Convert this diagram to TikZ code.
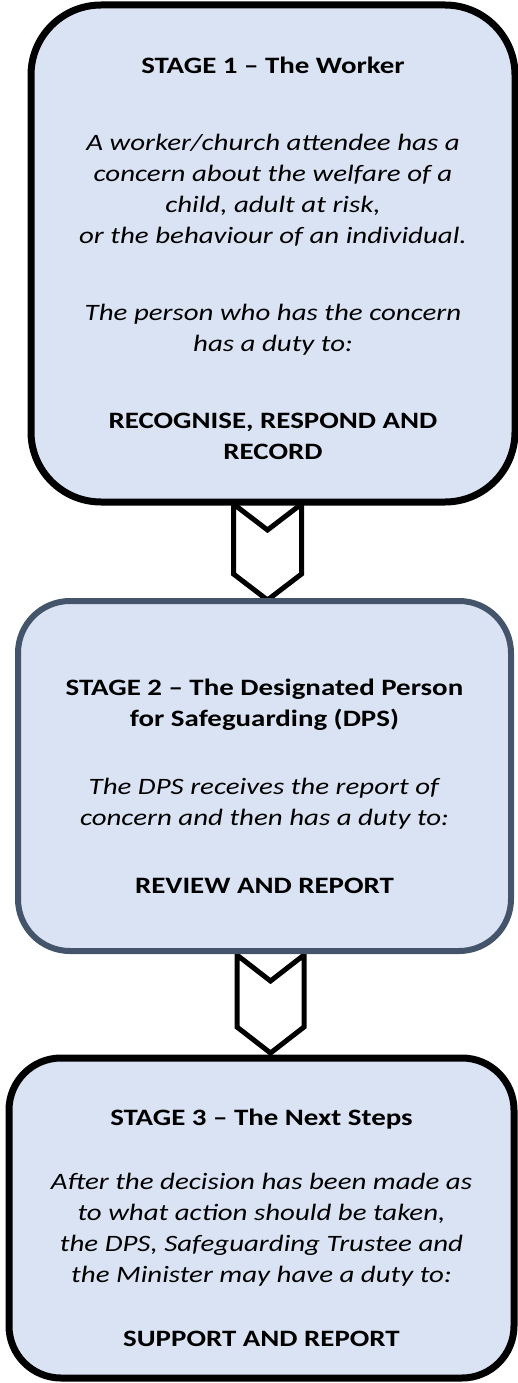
\documentclass[tikz,border=0pt]{standalone}
\usepackage{fontspec}
\setmainfont{Carlito}[FakeStretch=1.23]
\usetikzlibrary{positioning, calc}
\definecolor{stagefill}{HTML}{DAE3F3}
\definecolor{stagetwoline}{HTML}{44546A}

\begin{document}
\begin{tikzpicture}[
  x=1pt, y=-1pt,
  stagebox/.style={
    rectangle,
    draw=black,
    line width=7pt,
    fill=stagefill
  },
  stagetext/.style={
    align=center,
    inner sep=0pt,
    font=\fontsize{23.5}{31}\selectfont
  },
  chevron/.style={
    draw=black,
    line width=5pt,
    fill=white,
    line join=miter
  }
]
  \useasboundingbox (0,0) rectangle (518,1383);

  % Arrows between the stages
  \draw[chevron] (233.5,504) -- (267.5,530) -- (301.5,504) -- (301.5,574) -- (267.5,600) -- (233.5,574) -- cycle;
  \draw[chevron] (237,955) -- (270.5,981) -- (304,955) -- (304,1027) -- (270.5,1053) -- (237,1027) -- cycle;

  % Boxes
  \node[stagebox, rounded corners=70pt, minimum width=484pt, minimum height=497pt] (stage1) at (273,253.5) {};
  \node[stagebox, draw=stagetwoline, line width=6pt, rounded corners=52pt, minimum width=493pt, minimum height=350pt] (stage2) at (264.5,776) {};
  \node[stagebox, rounded corners=52pt, minimum width=505pt, minimum height=320pt] (stage3) at (261.5,1218) {};

  % Stage 1
  \node[stagetext] (stage1text) at ($(stage1.center)+(0,5)$) {%
    \textbf{STAGE 1 – The Worker}\\[46pt]
    \textit{A worker/church attendee has a}\\
    \textit{concern about the welfare of a}\\
    \textit{child, adult at risk,}\\
    \textit{or the behaviour of an individual.}\\[46pt]
    \textit{The person who has the concern}\\
    \textit{has a duty to:}\\[46pt]
    \textbf{RECOGNISE, RESPOND AND}\\
    \textbf{RECORD}};

  % Stage 2
  \node[stagetext] (stage2text) at ($(stage2.center)+(0,10)$) {%
    \textbf{STAGE 2 – The Designated Person}\\
    \textbf{for Safeguarding (DPS)}\\[37pt]
    \textit{The DPS receives the report of}\\
    \textit{concern and then has a duty to:}\\[37pt]
    \textbf{REVIEW AND REPORT}};

  % Stage 3
  \node[stagetext] (stage3text) at ($(stage3.center)+(0,9.5)$) {%
    \textbf{STAGE 3 – The Next Steps}\\[33pt]
    \textit{After the decision has been made as}\\
    \textit{to what action should be taken,}\\
    \textit{the DPS, Safeguarding Trustee and}\\
    \textit{the Minister may have a duty to:}\\[33pt]
    \textbf{SUPPORT AND REPORT}};
\end{tikzpicture}
\end{document}
